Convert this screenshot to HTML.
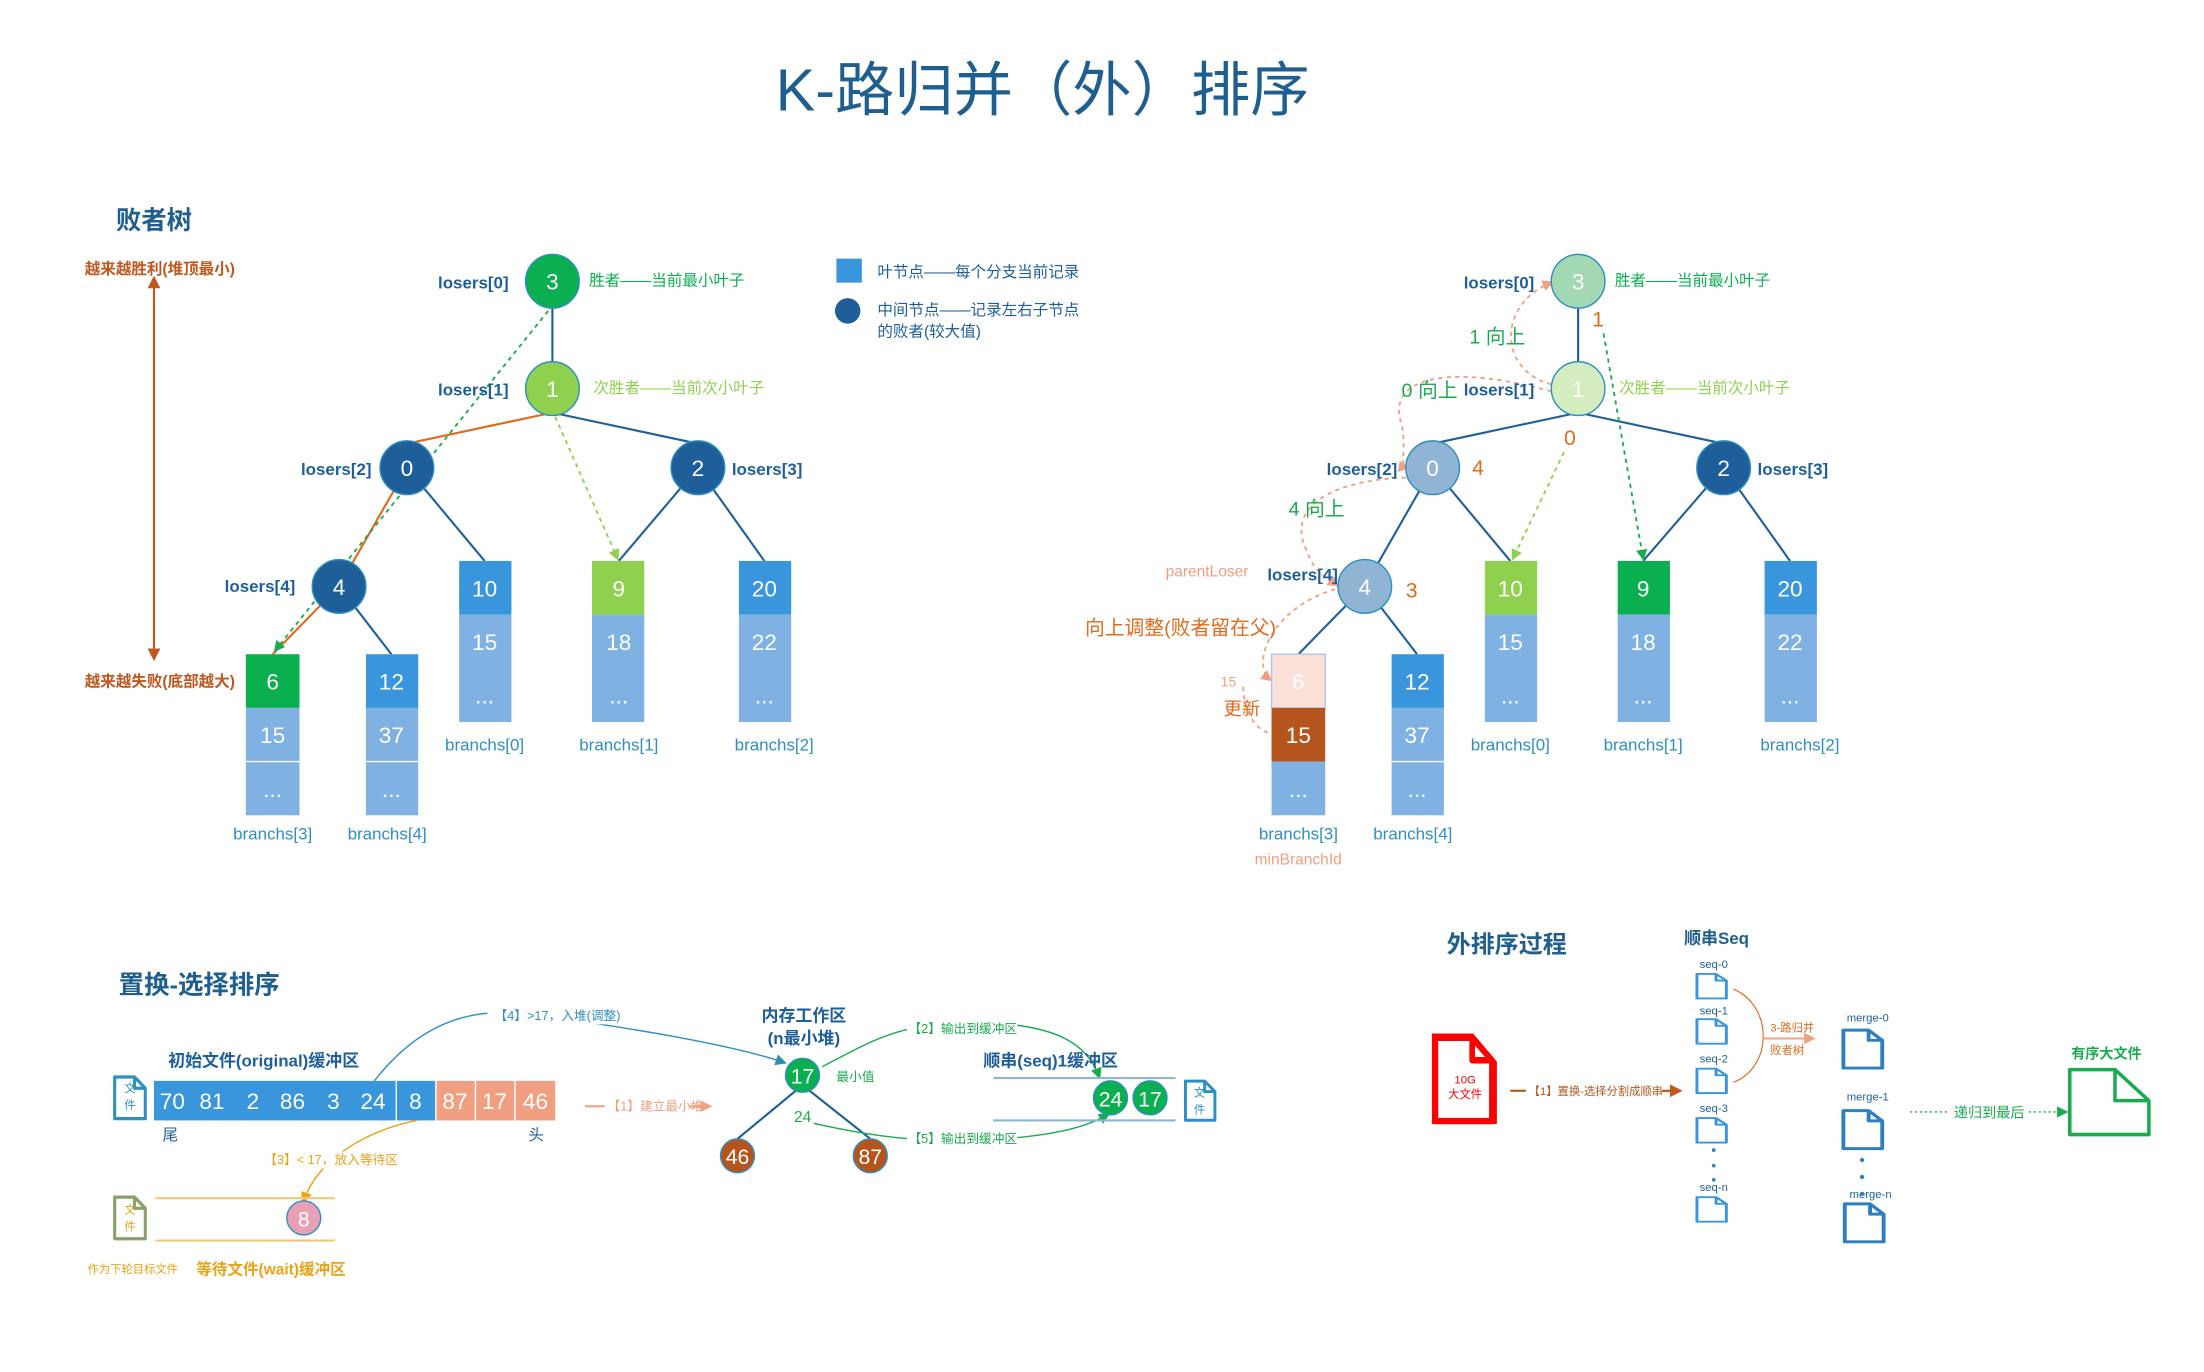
<!DOCTYPE html>
<html><head><meta charset="utf-8"><style>
html,body{margin:0;padding:0;background:#fff;}
svg{display:block;}
text{font-family:"Liberation Sans","Noto Sans CJK SC",sans-serif;}
</style></head><body>
<svg width="2204" height="1372" viewBox="0 0 1560 971" xmlns="http://www.w3.org/2000/svg">
<defs>
<symbol id="file" viewBox="0 0 24 30" preserveAspectRatio="none"><path d="M2 2H15L22 9V28H2Z M15 2V9H22" fill="#fff" stroke="currentColor" stroke-width="2" stroke-linejoin="round"/></symbol>
<marker id="ag" markerWidth="8" markerHeight="8" refX="6" refY="4" orient="auto" markerUnits="userSpaceOnUse"><path d="M0 0L8 4L0 8Z" fill="#1aab4f"/></marker>
<marker id="alg" markerWidth="8" markerHeight="8" refX="6" refY="4" orient="auto" markerUnits="userSpaceOnUse"><path d="M0 0L8 4L0 8Z" fill="#8fd14f"/></marker>
<marker id="ao" markerWidth="8" markerHeight="8" refX="6" refY="4" orient="auto" markerUnits="userSpaceOnUse"><path d="M0 0L8 4L0 8Z" fill="#f0a080"/></marker>
<marker id="ar" markerWidth="9" markerHeight="9" refX="7" refY="4.5" orient="auto" markerUnits="userSpaceOnUse"><path d="M0 0L9 4.5L0 9Z" fill="#c0571f"/></marker>
<marker id="ar2" markerWidth="9" markerHeight="9" refX="2" refY="4.5" orient="auto-start-reverse" markerUnits="userSpaceOnUse"><path d="M0 0L9 4.5L0 9Z" fill="#c0571f"/></marker>
<marker id="at" markerWidth="8" markerHeight="8" refX="6" refY="4" orient="auto" markerUnits="userSpaceOnUse"><path d="M0 0L8 4L0 8Z" fill="#2e8fa8"/></marker>
<marker id="ay" markerWidth="8" markerHeight="8" refX="6" refY="4" orient="auto" markerUnits="userSpaceOnUse"><path d="M0 0L8 4L0 8Z" fill="#e8a317"/></marker>
</defs>

<text x="738" y="78" text-anchor="middle" font-size="42" fill="#1f5f8f">K-路归并（外）排序</text>
<text x="82" y="162" font-size="18" fill="#1f5f8f" font-weight="bold">败者树</text>

<!-- left side red arrow -->
<line x1="109" y1="202" x2="109" y2="466" stroke="#c0571f" stroke-width="1.5" marker-start="url(#ar2)" marker-end="url(#ar)"/>
<text x="60" y="194" font-size="11" fill="#c0571f" font-weight="bold">越来越胜利(堆顶最小)</text>
<text x="60" y="486" font-size="11" fill="#c0571f" font-weight="bold">越来越失败(底部越大)</text>

<!-- LEFT TREE lines -->
<g stroke="#1f5f99" stroke-width="1.5" fill="none">
<line x1="391" y1="199" x2="391" y2="275"/>
<line x1="391" y1="292" x2="494" y2="314"/>
<line x1="288" y1="331" x2="343" y2="397"/>
<line x1="494" y1="331" x2="438" y2="397"/>
<line x1="494" y1="331" x2="541" y2="397"/>
<line x1="240" y1="415" x2="277" y2="463"/>
</g>
<g stroke="#e06a1e" stroke-width="1.5" fill="none">
<line x1="391" y1="292" x2="288" y2="314"/>
<line x1="288" y1="331" x2="240" y2="415"/>
<line x1="240" y1="415" x2="193" y2="463"/>
</g>
<line x1="388" y1="220" x2="195" y2="460" stroke="#1aab4f" stroke-width="1.3" stroke-dasharray="3,3" marker-end="url(#ag)"/>
<line x1="393" y1="295" x2="437" y2="395" stroke="#8fd14f" stroke-width="1.3" stroke-dasharray="3,3" marker-end="url(#alg)"/>

<!-- left nodes -->
<g font-size="16" text-anchor="middle" fill="#fff">
<circle cx="391" cy="199" r="19" fill="#0aaf50" stroke="#2e8fc0"/><text x="391" y="205">3</text>
<circle cx="391" cy="275" r="19" fill="#8fd14f" stroke="#2e8fc0"/><text x="391" y="281">1</text>
<circle cx="288" cy="331" r="19" fill="#1f5f99" stroke="#2e8fc0"/><text x="288" y="337">0</text>
<circle cx="494" cy="331" r="19" fill="#1f5f99" stroke="#2e8fc0"/><text x="494" y="337">2</text>
<circle cx="240" cy="415" r="19" fill="#1f5f99" stroke="#2e8fc0"/><text x="240" y="421">4</text>
</g>
<g font-size="12" fill="#1f5f99" font-weight="bold" text-anchor="end">
<text x="360" y="204">losers[0]</text>
<text x="360" y="280">losers[1]</text>
<text x="263" y="336">losers[2]</text>
<text x="209" y="419">losers[4]</text>
</g>
<text x="518" y="336" font-size="12" fill="#1f5f99" font-weight="bold">losers[3]</text>
<text x="417" y="202" font-size="11" fill="#0aaf50">胜者——当前最小叶子</text>
<text x="420" y="278" font-size="11" fill="#8fd14f">次胜者——当前次小叶子</text>

<!-- left leaves -->
<g font-size="16" text-anchor="middle" fill="#fff">
<rect x="325" y="397" width="37" height="38" fill="#3a96dc"/><text x="343" y="422">10</text>
<rect x="325" y="435" width="37" height="76" fill="#7fb1e3"/><text x="343" y="460">15</text><text x="343" y="498">...</text>
<rect x="419" y="397" width="37" height="38" fill="#8fd14f"/><text x="438" y="422">9</text>
<rect x="419" y="435" width="37" height="76" fill="#7fb1e3"/><text x="438" y="460">18</text><text x="438" y="498">...</text>
<rect x="523" y="397" width="37" height="38" fill="#3a96dc"/><text x="541" y="422">20</text>
<rect x="523" y="435" width="37" height="76" fill="#7fb1e3"/><text x="541" y="460">22</text><text x="541" y="498">...</text>
<rect x="174" y="463" width="38" height="38" fill="#0aaf50"/><text x="193" y="488">6</text>
<rect x="174" y="501" width="38" height="76" fill="#7fb1e3"/><line x1="174" y1="539" x2="212" y2="539" stroke="#fff"/><text x="193" y="526">15</text><text x="193" y="564">...</text>
<rect x="259" y="463" width="37" height="38" fill="#3a96dc"/><text x="277" y="488">12</text>
<rect x="259" y="501" width="37" height="76" fill="#7fb1e3"/><line x1="259" y1="539" x2="296" y2="539" stroke="#fff"/><text x="277" y="526">37</text><text x="277" y="564">...</text>
</g>
<g font-size="12" fill="#2e8fc0" text-anchor="middle">
<text x="343" y="531">branchs[0]</text><text x="438" y="531">branchs[1]</text><text x="548" y="531">branchs[2]</text>
<text x="193" y="594">branchs[3]</text><text x="274" y="594">branchs[4]</text>
</g>

<!-- legend -->
<rect x="592" y="183" width="18" height="17" fill="#3a96dc"/>
<text x="621" y="196" font-size="11" fill="#1f5f99">叶节点——每个分支当前记录</text>
<circle cx="600" cy="220" r="9" fill="#1f5f99"/>
<text x="621" y="223" font-size="11" fill="#1f5f99">中间节点——记录左右子节点</text>
<text x="621" y="238" font-size="11" fill="#1f5f99">的败者(较大值)</text>

<!-- RIGHT TREE -->
<g stroke="#1f5f99" stroke-width="1.5" fill="none">
<line x1="1117" y1="199" x2="1117" y2="275"/>
<line x1="1117" y1="292" x2="1014" y2="314"/>
<line x1="1117" y1="292" x2="1220" y2="314"/>
<line x1="1014" y1="331" x2="966" y2="415"/>
<line x1="1014" y1="331" x2="1069" y2="397"/>
<line x1="1220" y1="331" x2="1163" y2="397"/>
<line x1="1220" y1="331" x2="1267" y2="397"/>
<line x1="966" y1="415" x2="919" y2="463"/>
<line x1="966" y1="415" x2="1003" y2="463"/>
</g>
<line x1="1135" y1="236" x2="1163" y2="395" stroke="#1aab4f" stroke-width="1.3" stroke-dasharray="3,3" marker-end="url(#ag)"/>
<line x1="1107" y1="320" x2="1071" y2="395" stroke="#8fd14f" stroke-width="1.3" stroke-dasharray="3,3" marker-end="url(#alg)"/>
<g stroke="#f0a080" stroke-width="1.3" stroke-dasharray="3,3" fill="none">
<path d="M1098 272 C1060 262 1060 215 1098 200" marker-end="url(#ao)"/>
<path d="M1098 277 C1030 258 980 265 992 300 C996 318 990 330 996 331" marker-end="url(#ao)"/>
<path d="M995 338 C940 340 910 360 925 390 C930 405 940 410 946 414" marker-end="url(#ao)"/>
<path d="M945 417 C900 430 885 470 899 481" marker-end="url(#ao)"/>
<path d="M880 486 C880 505 890 518 900 519"/>
</g>
<g font-size="16" text-anchor="middle" fill="#fff">
<circle cx="1117" cy="199" r="19" fill="#a4d7b4" stroke="#2e8fc0"/><text x="1117" y="205">3</text>
<circle cx="1117" cy="275" r="19" fill="#d5ebc0" stroke="#2e8fc0"/><text x="1117" y="281">1</text>
<circle cx="1014" cy="331" r="19" fill="#8fb4d4" stroke="#2e8fc0"/><text x="1014" y="337">0</text>
<circle cx="1220" cy="331" r="19" fill="#1f5f99" stroke="#2e8fc0"/><text x="1220" y="337">2</text>
<circle cx="966" cy="415" r="19" fill="#8fb4d4" stroke="#2e8fc0"/><text x="966" y="421">4</text>
</g>
<g font-size="12" fill="#1f5f99" font-weight="bold" text-anchor="end">
<text x="1086" y="204">losers[0]</text>
<text x="1086" y="280">losers[1]</text>
<text x="989" y="336">losers[2]</text>
<text x="947" y="411">losers[4]</text>
</g>
<text x="1244" y="336" font-size="12" fill="#1f5f99" font-weight="bold">losers[3]</text>
<text x="1143" y="202" font-size="11" fill="#0aaf50">胜者——当前最小叶子</text>
<text x="1146" y="278" font-size="11" fill="#8fd14f">次胜者——当前次小叶子</text>
<g font-size="14" fill="#1aab4f">
<text x="1040" y="243">1 向上</text><text x="992" y="281">0 向上</text><text x="912" y="365">4 向上</text>
</g>
<g font-size="15" fill="#e06a1e">
<text x="1127" y="231">1</text><text x="1107" y="315">0</text><text x="1042" y="336">4</text><text x="995" y="423">3</text>
</g>
<text x="825" y="408" font-size="11" fill="#f0a080">parentLoser</text>
<text x="768" y="449" font-size="14" fill="#e06a1e">向上调整(败者留在父)</text>
<text x="864" y="486" font-size="10" fill="#f0a080">15</text>
<text x="866" y="506" font-size="13" fill="#e06a1e">更新</text>
<text x="888" y="612" font-size="11" fill="#f0a080">minBranchId</text>

<g font-size="16" text-anchor="middle" fill="#fff">
<rect x="1051" y="397" width="37" height="38" fill="#8fd14f"/><text x="1069" y="422">10</text>
<rect x="1051" y="435" width="37" height="76" fill="#7fb1e3"/><text x="1069" y="460">15</text><text x="1069" y="498">...</text>
<rect x="1145" y="397" width="37" height="38" fill="#0aaf50"/><text x="1163" y="422">9</text>
<rect x="1145" y="435" width="37" height="76" fill="#7fb1e3"/><text x="1163" y="460">18</text><text x="1163" y="498">...</text>
<rect x="1249" y="397" width="37" height="38" fill="#3a96dc"/><text x="1267" y="422">20</text>
<rect x="1249" y="435" width="37" height="76" fill="#7fb1e3"/><text x="1267" y="460">22</text><text x="1267" y="498">...</text>
<rect x="900" y="463" width="38" height="38" fill="#fbe0d8" stroke="#a9c8e6"/><text x="919" y="488">6</text>
<rect x="900" y="501" width="38" height="38" fill="#b5541c"/><text x="919" y="526">15</text>
<rect x="900" y="539" width="38" height="38" fill="#7fb1e3"/><text x="919" y="564">...</text>
<rect x="985" y="463" width="37" height="38" fill="#3a96dc"/><text x="1003" y="488">12</text>
<rect x="985" y="501" width="37" height="76" fill="#7fb1e3"/><line x1="985" y1="539" x2="1022" y2="539" stroke="#fff"/><text x="1003" y="526">37</text><text x="1003" y="564">...</text>
</g>
<g font-size="12" fill="#2e8fc0" text-anchor="middle">
<text x="1069" y="531">branchs[0]</text><text x="1163" y="531">branchs[1]</text><text x="1274" y="531">branchs[2]</text>
<text x="919" y="594">branchs[3]</text><text x="1000" y="594">branchs[4]</text>
</g>

<!-- REPLACEMENT SELECTION -->
<text x="84" y="703" font-size="18" fill="#1f5f8f" font-weight="bold">置换-选择排序</text>
<text x="119" y="755" font-size="12" fill="#1f5f99" font-weight="bold">初始文件(original)缓冲区</text>
<use href="#file" x="79" y="760" width="26" height="34" style="color:#2e8fc0"/>
<text x="92" y="773" font-size="8" fill="#2e8fc0" text-anchor="middle">文</text>
<text x="92" y="785" font-size="8" fill="#2e8fc0" text-anchor="middle">件</text>
<rect x="109" y="765" width="171" height="28" fill="#3a96dc"/>
<rect x="281" y="765" width="27" height="28" fill="#3a96dc"/>
<rect x="309" y="765" width="27" height="28" fill="#f0a080"/>
<rect x="337" y="765" width="27" height="28" fill="#f0a080"/>
<rect x="365" y="765" width="28" height="28" fill="#f0a080"/>
<g font-size="16" fill="#fff" text-anchor="middle">
<text x="122" y="785">70</text><text x="150" y="785">81</text><text x="179" y="785">2</text><text x="207" y="785">86</text><text x="236" y="785">3</text><text x="264" y="785">24</text>
<text x="294" y="785">8</text><text x="322" y="785">87</text><text x="350" y="785">17</text><text x="379" y="785">46</text>
</g>
<text x="115" y="807" font-size="11" fill="#1f5f99">尾</text>
<text x="374" y="807" font-size="11" fill="#1f5f99">头</text>

<path d="M265 765 C300 720 340 710 390 720 C450 728 520 740 555 752" stroke="#2e8fc0" stroke-width="1" fill="none" marker-end="url(#at)"/>
<rect x="345" y="713" width="95" height="12" fill="#fff"/>
<text x="350" y="722" font-size="9" fill="#2e8fc0">【4】&gt;17，入堆(调整)</text>
<path d="M295 793 C260 800 225 820 215 850" stroke="#e8a317" stroke-width="1" fill="none" marker-end="url(#ay)"/>
<rect x="185" y="815" width="98" height="12" fill="#fff"/>
<text x="187" y="824" font-size="9" fill="#e8a317">【3】&lt; 17，放入等待区</text>
<line x1="414" y1="783" x2="428" y2="783" stroke="#f0a080" stroke-width="1.5"/>
<text x="430" y="786" font-size="9" fill="#f0a080">【1】建立最小堆</text>
<line x1="488" y1="783" x2="502" y2="783" stroke="#f0a080" stroke-width="1.5" marker-end="url(#ao)"/>

<text x="569" y="723" font-size="12" fill="#1f5f99" font-weight="bold" text-anchor="middle">内存工作区</text>
<text x="569" y="739" font-size="12" fill="#1f5f99" font-weight="bold" text-anchor="middle">(n最小堆)</text>
<line x1="568" y1="768" x2="522" y2="806" stroke="#1f5f99" stroke-width="1.5"/>
<line x1="568" y1="768" x2="616" y2="806" stroke="#1f5f99" stroke-width="1.5"/>
<g font-size="15" fill="#fff" text-anchor="middle">
<circle cx="568" cy="761" r="12" fill="#0aaf50" stroke="#2e8fc0"/><text x="568" y="767">17</text>
<circle cx="522" cy="818" r="12" fill="#b5541c" stroke="#2e8fc0"/><text x="522" y="824">46</text>
<circle cx="616" cy="818" r="12" fill="#b5541c" stroke="#2e8fc0"/><text x="616" y="824">87</text>
</g>
<text x="592" y="765" font-size="9" fill="#1aab4f">最小值</text>
<text x="562" y="794" font-size="11" fill="#1aab4f">24</text>
<path d="M582 755 C620 735 640 722 700 724 C750 726 770 740 778 762" stroke="#1aab4f" stroke-width="1" fill="none" marker-end="url(#ag)"/>
<rect x="642" y="722" width="78" height="12" fill="#fff"/>
<text x="643" y="731" font-size="9" fill="#1aab4f">【2】输出到缓冲区</text>
<path d="M576 795 C620 805 660 810 710 806 C750 803 770 797 784 789" stroke="#1aab4f" stroke-width="1" fill="none" marker-end="url(#ag)"/>
<rect x="642" y="800" width="78" height="12" fill="#fff"/>
<text x="643" y="809" font-size="9" fill="#1aab4f">【5】输出到缓冲区</text>

<text x="696" y="755" font-size="12" fill="#1f5f99" font-weight="bold">顺串(seq)1缓冲区</text>
<line x1="703" y1="763" x2="832" y2="763" stroke="#8fb4d4" stroke-width="1.5"/>
<line x1="703" y1="793" x2="832" y2="793" stroke="#8fb4d4" stroke-width="1.5"/>
<g font-size="15" fill="#fff" text-anchor="middle">
<circle cx="786" cy="777" r="12" fill="#0aaf50" stroke="#2e8fc0"/><text x="786" y="783">24</text>
<circle cx="814" cy="777" r="12" fill="#0aaf50" stroke="#2e8fc0"/><text x="814" y="783">17</text>
</g>
<use href="#file" x="837" y="763" width="25" height="32" style="color:#2e8fc0"/>
<text x="849" y="776" font-size="8" fill="#2e8fc0" text-anchor="middle">文</text>
<text x="849" y="788" font-size="8" fill="#2e8fc0" text-anchor="middle">件</text>

<use href="#file" x="79" y="845" width="26" height="34" style="color:#8aa06a"/>
<text x="92" y="859" font-size="8" fill="#e8a317" text-anchor="middle">文</text>
<text x="92" y="871" font-size="8" fill="#e8a317" text-anchor="middle">件</text>
<line x1="110" y1="848" x2="237" y2="848" stroke="#f0c878" stroke-width="1.5"/>
<line x1="110" y1="878" x2="237" y2="878" stroke="#f0c878" stroke-width="1.5"/>
<circle cx="215" cy="862" r="12" fill="#e8a0b4" stroke="#2e8fc0"/>
<text x="215" y="868" font-size="15" fill="#fff" text-anchor="middle">8</text>
<text x="62" y="901" font-size="8" fill="#e8a317">作为下轮目标文件</text>
<text x="139" y="902" font-size="11" fill="#e8a317" font-weight="bold">等待文件(wait)缓冲区</text>

<!-- EXTERNAL SORT PROCESS -->
<text x="1024" y="674" font-size="17" fill="#1f5f8f" font-weight="bold">外排序过程</text>
<text x="1192" y="668" font-size="12" fill="#1f5f8f" font-weight="bold">顺串Seq</text>
<use href="#file" x="1012" y="730" width="48" height="68" style="color:#ff0000"/>
<path d="M1015 733 H1042 L1058 752 V794 H1015 Z" fill="none" stroke="#ff0000" stroke-width="3"/>
<text x="1037" y="767" font-size="8" fill="#ff0000" text-anchor="middle">10G</text>
<text x="1037" y="777" font-size="8" fill="#ff0000" text-anchor="middle">大文件</text>
<line x1="1069" y1="772" x2="1080" y2="772" stroke="#b5541c" stroke-width="1.5"/>
<text x="1082" y="775" font-size="8" fill="#b5541c">【1】置换-选择分割成顺串</text>
<line x1="1176" y1="772" x2="1189" y2="772" stroke="#b5541c" stroke-width="1.5" marker-end="url(#ar)"/>

<g font-size="8" fill="#1f5f99" text-anchor="middle">
<text x="1213" y="685">seq-0</text><text x="1213" y="718">seq-1</text><text x="1213" y="752">seq-2</text><text x="1213" y="787">seq-3</text><text x="1213" y="843">seq-n</text>
<text x="1322" y="723">merge-0</text><text x="1322" y="779">merge-1</text><text x="1324" y="848">merge-n</text>
</g>
<g style="color:#3a96dc">
<use href="#file" x="1199" y="688" width="25" height="20"/>
<use href="#file" x="1199" y="720" width="25" height="20"/>
<use href="#file" x="1199" y="755" width="25" height="20"/>
<use href="#file" x="1199" y="790" width="25" height="20"/>
<use href="#file" x="1199" y="846" width="25" height="20"/>
</g>
<g style="color:#2e7fc0">
<use href="#file" x="1302" y="727" width="33" height="31"/>
<use href="#file" x="1302" y="784" width="33" height="31"/>
<use href="#file" x="1303" y="850" width="33" height="31"/>
</g>
<g fill="#2e7fc0"><circle cx="1213" cy="814" r="1.3"/><circle cx="1213" cy="825" r="1.3"/><circle cx="1213" cy="835" r="1.3"/>
<circle cx="1318" cy="821" r="1.5"/><circle cx="1318" cy="833" r="1.5"/><circle cx="1318" cy="845" r="1.5"/></g>
<path d="M1227 700 C1255 712 1255 755 1227 766" stroke="#e06a1e" stroke-width="0.8" fill="none"/>
<text x="1253" y="730" font-size="8" fill="#e06a1e">3-路归并</text>
<line x1="1248" y1="735" x2="1283" y2="735" stroke="#f0a080" stroke-width="1.5" marker-end="url(#ao)"/>
<text x="1253" y="746" font-size="8" fill="#e06a1e">败者树</text>
<line x1="1352" y1="787" x2="1380" y2="787" stroke="#1aab4f" stroke-width="1" stroke-dasharray="1.5,2"/>
<text x="1383" y="791" font-size="10" fill="#1aab4f">递归到最后</text>
<line x1="1436" y1="787" x2="1462" y2="787" stroke="#1aab4f" stroke-width="1" stroke-dasharray="1.5,2" marker-end="url(#ag)"/>
<text x="1466" y="749" font-size="10" fill="#1aab4f" font-weight="bold">有序大文件</text>
<path d="M1465 757 H1497 L1521 779 V803 H1465 Z M1497 757 V779 H1521" fill="#fff" stroke="#1aab4f" stroke-width="2.5" stroke-linejoin="round"/>
</svg>
</body></html>
